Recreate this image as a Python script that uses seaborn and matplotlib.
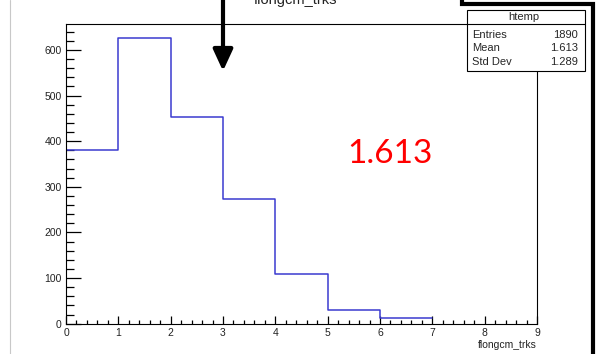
import matplotlib
matplotlib.use("Agg")
import matplotlib.pyplot as plt
from matplotlib.lines import Line2D
from matplotlib.patches import Rectangle
from matplotlib.ticker import MultipleLocator
import seaborn as sns

# histogram contents (integer-valued variable, unit bins)
bin_values = [0, 1, 2, 3, 4, 5, 6]
bin_counts = [381, 627, 454, 274, 110, 31, 13]
bin_edges = [0, 1, 2, 3, 4, 5, 6, 7]
var_name = "flongcm_trks"
hist_name = "htemp"
stats_labels = ["Entries", "Mean", "Std Dev"]
stats_values = ["1890", "1.613", "1.289"]
note_text = "1.613"

sns.set_style("white")
plt.rcParams["font.family"] = ["Liberation Sans", "DejaVu Sans"]

W, H = 603, 354
fig = plt.figure(figsize=(W / 100, H / 100), dpi=100)


def px(x, y):
    # pixel position (from top-left) -> figure fraction
    return x / W, 1 - y / H


ax = fig.add_axes([66 / W, (H - 323.7) / H, (537 - 66) / W, (323.7 - 24) / H])

sns.histplot(x=bin_values, weights=bin_counts, bins=bin_edges, element="step",
             fill=False, color="#3a3ad0", linewidth=1.1, ax=ax)

ax.set_xlim(0, 9)
ax.set_ylim(0, 657)
ax.set_xlabel("")
ax.set_ylabel("")
ax.xaxis.set_major_locator(MultipleLocator(1))
ax.xaxis.set_minor_locator(MultipleLocator(0.2))
ax.yaxis.set_major_locator(MultipleLocator(100))
ax.yaxis.set_minor_locator(MultipleLocator(20))
ax.tick_params(axis="both", which="both", direction="in", colors="black",
               labelsize=7.5, width=0.9, bottom=True, left=True,
               top=False, right=False)
ax.tick_params(axis="y", which="major", length=10.8, pad=3)
ax.tick_params(axis="y", which="minor", length=5.8)
ax.tick_params(axis="x", which="major", length=6, pad=3)
ax.tick_params(axis="x", which="minor", length=2.8)
for tl in ax.get_xticklabels() + ax.get_yticklabels():
    tl.set_color("#222222")
for s in ax.spines.values():
    s.set_visible(True)
    s.set_color("black")
    s.set_linewidth(0.8)

# axis title and pad title
fig.text(*px(537, 345), var_name, ha="right", va="center", fontsize=7.5,
         color="#222222")
fig.text(*px(296, 4), var_name, ha="center", va="baseline", fontsize=10.5,
         color="#222222")

# stats box
bx0, by0, bx1, by1 = 467, 10, 585, 71
x0, y1 = px(bx0, by1)
x1, y0 = px(bx1, by0)
fig.add_artist(Rectangle((x0, y1), x1 - x0, y0 - y1, transform=fig.transFigure,
                         facecolor="white", edgecolor="black", linewidth=0.8,
                         zorder=5))
fig.add_artist(Line2D([px(bx0, 24)[0], px(bx1, 24)[0]], [px(0, 24)[1]] * 2,
                      color="black", linewidth=0.8, zorder=6))
fig.text(*px(524, 17), hist_name, ha="center", va="center", fontsize=8,
         zorder=7)
for i, (lab, val) in enumerate(zip(stats_labels, stats_values)):
    yy = 35 + i * 13.3
    fig.text(*px(472, yy), lab, ha="left", va="center", fontsize=8, zorder=7)
    fig.text(*px(578, yy), val, ha="right", va="center", fontsize=8, zorder=7)

# annotations on the slide
fig.text(*px(390, 154), note_text, ha="center", va="center", fontsize=24,
         color="red", family=["Lato", "DejaVu Sans"])
ax.annotate("", xy=px(223, 71), xytext=px(223, -2), xycoords="figure fraction",
            arrowprops=dict(arrowstyle="-|>,head_length=0.65,head_width=0.3",
                            mutation_scale=20, lw=3, color="black",
                            shrinkA=0, shrinkB=0))
xs = [px(462, 0)[0], px(462, 4)[0], px(592.5, 4)[0], px(592.5, 360)[0]]
ys = [px(462, -2)[1], px(462, 4)[1], px(592.5, 4)[1], px(592.5, 360)[1]]
fig.add_artist(Line2D(xs, ys, color="black", linewidth=3, zorder=8,
                      solid_joinstyle="miter"))
fig.add_artist(Line2D([px(9.5, 0)[0]] * 2, [0, 1], color="#c8c8c8",
                      linewidth=0.8))

fig.savefig("out.png", dpi=100)
